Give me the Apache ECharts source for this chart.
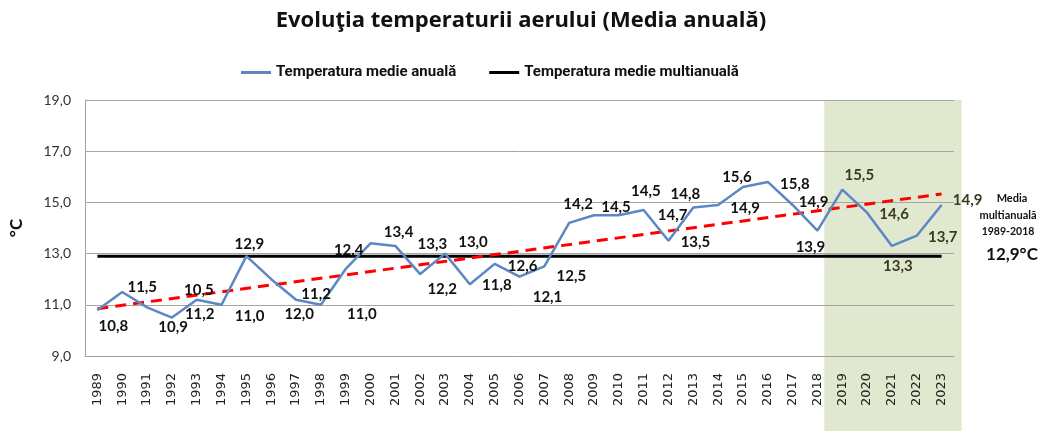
<!DOCTYPE html>
<html>
<head>
<meta charset="utf-8">
<script src="https://cdn.jsdelivr.net/npm/echarts@6/dist/echarts.min.js"></script>
<style>
  html, body { margin: 0; padding: 0; background: #fff; }
  #chart { width: 1042px; height: 431px; }
</style>
</head>
<body>
<div id="chart"></div>
<script>
// date
var years = ['1989', '1990', '1991', '1992', '1993', '1994', '1995', '1996', '1997', '1998',
  '1999', '2000', '2001', '2002', '2003', '2004', '2005', '2006', '2007', '2008',
  '2009', '2010', '2011', '2012', '2013', '2014', '2015', '2016', '2017', '2018',
  '2019', '2020', '2021', '2022', '2023'];
var annualTemp = [10.8, 11.5, 10.9, 10.5, 11.2, 11.0, 12.9, 12.0, 11.2, 11.0,
  12.4, 13.4, 13.3, 12.2, 13.0, 11.8, 12.6, 12.1, 12.5, 14.2,
  14.5, 14.5, 14.7, 13.5, 14.8, 14.9, 15.6, 15.8, 14.9, 13.9,
  15.5, 14.6, 13.3, 13.7, 14.9];
var multiMean = 12.9;           // media multianuala 1989-2018
var trendStart = 10.85;         // linia de tendinta, capete
var trendEnd = 15.33;
var yTicks = [9, 11, 13, 15, 17, 19];

// pozitia etichetelor fata de punct (ca in Excel, mutate manual)
var labelShift = [
  [16, 16], [20, -5], [26, 20], [27, -27], [3, 14], [28, 11], [3, -12], [28, 35], [20, -6], [41, 9],
  [3, -19], [28, -11], [37, -2], [22, 15], [28, -11], [27, 1], [28, 2], [28, 21], [27, 10], [9, -19],
  [22, -8], [27, -24], [29, 5], [27, 1], [-8, -13], [27, 3], [-6, -10], [27, 2], [21, -3], [-7, 17],
  [17, -14], [27, 2], [6, 20], [26, 1], [26, -5]
];

function comma(v) {
  return v.toFixed(1).replace('.', ',');
}

var labelFont = 'Lato, "Noto Sans", sans-serif';
var titleFont = '"Open Sans", Lato, sans-serif';
var legendFont = 'Roboto, "DejaVu Sans Condensed", sans-serif';

var annualData = annualTemp.map(function (v, i) {
  return {
    value: v,
    label: {
      offset: labelShift[i],
      color: i >= 30 ? '#3a3a22' : '#111'
    }
  };
});

var myChart = echarts.init(document.getElementById('chart'));

var option = {
  animation: false,
  backgroundColor: '#fff',
  title: {
    text: 'Evoluţia temperaturii aerului (Media anuală)',
    left: 'center',
    top: 5,
    textStyle: { fontFamily: titleFont, fontSize: 22, fontWeight: 'bold', color: '#111' }
  },
  legend: {
    data: ['Temperatura medie anuală', 'Temperatura medie multianuală'],
    left: 236,
    top: 60,
    icon: 'rect',
    itemWidth: 30,
    itemHeight: 3,
    itemGap: 33,
    textStyle: { fontFamily: legendFont, fontSize: 15, fontWeight: 'bold', color: '#111' }
  },
  grid: { left: 80, right: 88, top: 100, bottom: 75 },
  xAxis: {
    type: 'category',
    data: years,
    boundaryGap: true,
    axisLine: { lineStyle: { color: '#a0a0a0', width: 1 } },
    axisTick: { show: false },
    axisLabel: { rotate: 90, margin: 17, fontSize: 13, color: '#222', fontFamily: '"DejaVu Sans", sans-serif' }
  },
  yAxis: {
    type: 'value',
    min: yTicks[0],
    max: yTicks[yTicks.length - 1],
    interval: 2,
    name: '°C',
    nameLocation: 'middle',
    nameRotate: 90,
    nameGap: 60,
    nameTextStyle: { fontFamily: labelFont, fontSize: 17, fontWeight: 'bold', color: '#111' },
    axisLine: { show: true, lineStyle: { color: '#a0a0a0', width: 1 } },
    axisTick: { show: false },
    splitLine: { lineStyle: { color: '#a6a6a6', width: 1 } },
    axisLabel: {
      margin: 14, fontSize: 14, color: '#333', fontFamily: labelFont,
      formatter: function (v) { return comma(v); }
    }
  },
  series: [
    {
      name: 'Temperatura medie multianuală',
      type: 'line',
      data: years.map(function () { return multiMean; }),
      symbol: 'none',
      itemStyle: { color: '#000' },
      lineStyle: { color: '#000', width: 3 },
      z: 3
    },
    {
      name: 'trend',
      type: 'line',
      data: [[years[0], trendStart], [years[years.length - 1], trendEnd]],
      symbol: 'none',
      lineStyle: { color: '#ff0000', width: 3, type: [11, 7] },
      z: 4
    },
    {
      name: 'Temperatura medie anuală',
      type: 'line',
      data: annualData,
      symbol: 'circle',
      symbolSize: 1,
      showSymbol: true,
      showAllSymbol: true,
      itemStyle: { color: '#5b88c4' },
      lineStyle: { color: '#5b88c4', width: 2.5 },
      label: {
        show: true,
        position: 'inside',
        fontFamily: labelFont,
        fontSize: 15,
        fontWeight: 'bold',
        formatter: function (p) { return comma(p.value); }
      },
      z: 5
    }
  ]
};

myChart.setOption(option);

// zona verde pentru 2019-2023 si textul din dreapta
var x0 = myChart.convertToPixel({ xAxisIndex: 0 }, '2019') - 18;
var x1 = myChart.convertToPixel({ xAxisIndex: 0 }, '2023') + 20;
var yTop = myChart.convertToPixel({ yAxisIndex: 0 }, yTicks[yTicks.length - 1]);
var smallFont = 'bold 11px ' + labelFont;

myChart.setOption({
  graphic: [
    {
      type: 'rect',
      z: -1,
      silent: true,
      shape: { x: x0, y: yTop, width: x1 - x0, height: 431 - yTop },
      style: { fill: '#e0e9cf' }
    },
    { type: 'text', style: { text: 'Media', x: 1012, y: 198, align: 'center', verticalAlign: 'middle', font: smallFont, fill: '#111' } },
    { type: 'text', style: { text: 'multianuală', x: 1008, y: 215, align: 'center', verticalAlign: 'middle', font: smallFont, fill: '#111' } },
    { type: 'text', style: { text: '1989-2018', x: 1008, y: 232, align: 'center', verticalAlign: 'middle', font: 'bold 10.5px ' + labelFont, fill: '#111' } },
    { type: 'text', style: { text: '12,9°C', x: 1012, y: 255, align: 'center', verticalAlign: 'middle', font: 'bold 17px ' + labelFont, fill: '#111' } }
  ]
});
</script>
</body>
</html>
